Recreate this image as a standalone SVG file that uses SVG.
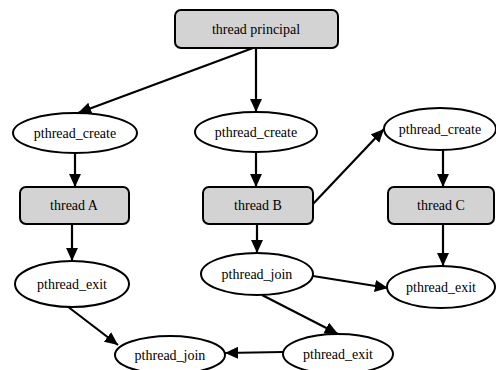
<svg xmlns="http://www.w3.org/2000/svg" width="496" height="370" viewBox="0 0 496 370">
<style>
.box{fill:#d3d3d3;stroke:#000;stroke-width:2}
.ell{fill:#fff;stroke:#000;stroke-width:2}
text{font-family:'Liberation Serif','Times New Roman',serif;font-size:14px;fill:#000;text-anchor:middle}
.e{stroke:#000;stroke-width:2.2;fill:none;marker-end:url(#ah)}
</style>
<defs>
<marker id="ah" viewBox="0 0 10 10" refX="10" refY="5" markerWidth="6" markerHeight="5.5" markerUnits="strokeWidth" orient="auto" preserveAspectRatio="none">
<path d="M0,0 L10,5 L0,10 z" fill="#000"/>
</marker>
</defs>
<rect width="496" height="370" fill="#fff"/>
<g id="edges">
<line class="e" x1="253" y1="48" x2="78" y2="113"/>
<line class="e" x1="256" y1="48" x2="256" y2="112"/>
<line class="e" x1="75" y1="153" x2="75" y2="187"/>
<line class="e" x1="256" y1="153" x2="256" y2="187"/>
<line class="e" x1="312" y1="205" x2="384" y2="129"/>
<line class="e" x1="443" y1="150" x2="443" y2="187"/>
<line class="e" x1="72" y1="224" x2="72" y2="261"/>
<line class="e" x1="257" y1="224" x2="257" y2="253"/>
<line class="e" x1="443" y1="224" x2="443" y2="266"/>
<line class="e" x1="67" y1="306" x2="118" y2="345"/>
<line class="e" x1="313" y1="276" x2="388" y2="288"/>
<line class="e" x1="262" y1="295" x2="338" y2="334"/>
<line class="e" x1="283" y1="352" x2="225" y2="353"/>
</g>
<g id="principal"><rect class="box" x="175" y="10" width="163" height="38" rx="6"/><text font-family="Liberation Serif, serif" x="256" y="34">thread principal</text></g>
<g id="createA"><ellipse class="ell" cx="75" cy="133" rx="62" ry="20"/><text font-family="Liberation Serif, serif" x="75" y="138">pthread_create</text></g>
<g id="createB"><ellipse class="ell" cx="256" cy="132" rx="61" ry="20"/><text font-family="Liberation Serif, serif" x="256" y="137">pthread_create</text></g>
<g id="createC"><ellipse class="ell" cx="440" cy="129" rx="56" ry="21"/><text font-family="Liberation Serif, serif" x="440" y="134">pthread_create</text></g>
<g id="threadA"><rect class="box" x="20" y="187" width="109" height="37" rx="6"/><text font-family="Liberation Serif, serif" x="74" y="210">thread A</text></g>
<g id="threadB"><rect class="box" x="203" y="187" width="110" height="37" rx="6"/><text font-family="Liberation Serif, serif" x="258" y="210">thread B</text></g>
<g id="threadC"><rect class="box" x="388" y="187" width="106" height="37" rx="6"/><text font-family="Liberation Serif, serif" x="441" y="210">thread C</text></g>
<g id="exitA"><ellipse class="ell" cx="72" cy="284" rx="57" ry="23"/><text font-family="Liberation Serif, serif" x="72" y="289">pthread_exit</text></g>
<g id="joinB"><ellipse class="ell" cx="257" cy="274" rx="56" ry="21"/><text font-family="Liberation Serif, serif" x="257" y="279">pthread_join</text></g>
<g id="exitC"><ellipse class="ell" cx="441" cy="287" rx="54" ry="21"/><text font-family="Liberation Serif, serif" x="441" y="292">pthread_exit</text></g>
<g id="joinMain"><ellipse class="ell" cx="170" cy="355" rx="55" ry="19"/><text font-family="Liberation Serif, serif" x="170" y="360">pthread_join</text></g>
<g id="exitB"><ellipse class="ell" cx="338" cy="354" rx="55" ry="20"/><text font-family="Liberation Serif, serif" x="338" y="359">pthread_exit</text></g>
</svg>
